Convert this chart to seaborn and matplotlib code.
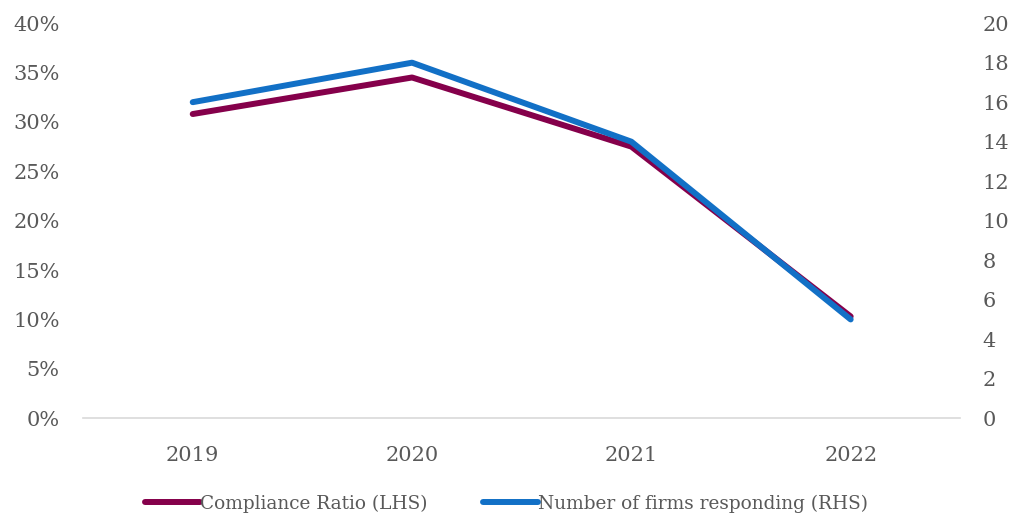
import matplotlib
matplotlib.use("Agg")
import matplotlib.pyplot as plt
import seaborn as sns
import pandas as pd
from matplotlib.ticker import FuncFormatter, MultipleLocator

years = ["2019", "2020", "2021", "2022"]
compliance_ratio = [0.308, 0.345, 0.275, 0.103]
firms_responding = [16, 18, 14, 5]

sns.set_theme(style="white")
plt.rcParams['font.family'] = ['DejaVu Serif']

text_color = "#595959"
maroon = "#85004B"
blue = "#1270C6"

df = pd.DataFrame({"year": years, "ratio": compliance_ratio, "firms": firms_responding})

fig = plt.figure(figsize=(10.13, 5.15), dpi=100)
ax = fig.add_axes([0.082, 0.188, 0.866, 0.767])
ax2 = ax.twinx()

sns.lineplot(data=df, x="year", y="ratio", ax=ax, color=maroon, linewidth=4.3,
             solid_capstyle="round", label="Compliance Ratio (LHS)", legend=False)
sns.lineplot(data=df, x="year", y="firms", ax=ax2, color=blue, linewidth=4.3,
             solid_capstyle="round", label="Number of firms responding (RHS)", legend=False)

ax.set_ylim(0, 0.40)
ax2.set_ylim(0, 20)
ax.set_xlim(-0.5, 3.5)
ax.yaxis.set_major_locator(MultipleLocator(0.05))
ax.yaxis.set_major_formatter(FuncFormatter(lambda v, p: f"{v*100:.0f}%"))
ax2.yaxis.set_major_locator(MultipleLocator(2))

for a in (ax, ax2):
    a.set_xlabel("")
    a.set_ylabel("")
    for s in a.spines.values():
        s.set_visible(False)
    a.tick_params(axis="both", length=0, labelsize=15, colors=text_color)
    a.grid(False)
ax.spines["bottom"].set_visible(True)
ax.spines["bottom"].set_color("#D9D9D9")
ax.spines["bottom"].set_linewidth(1.2)
ax.tick_params(axis="x", pad=20)
ax.tick_params(axis="y", pad=17)
ax2.tick_params(axis="y", pad=16)

h1, l1 = ax.get_legend_handles_labels()
h2, l2 = ax2.get_legend_handles_labels()
leg = fig.legend(h1 + h2, l1 + l2, loc="center", bbox_to_anchor=(0.5, 0.022), ncol=2,
                 frameon=False, fontsize=13.3, handlelength=3.0, handletextpad=0.0,
                 columnspacing=3.0)
for t in leg.get_texts():
    t.set_color(text_color)

fig.savefig("out.png", dpi=100)
